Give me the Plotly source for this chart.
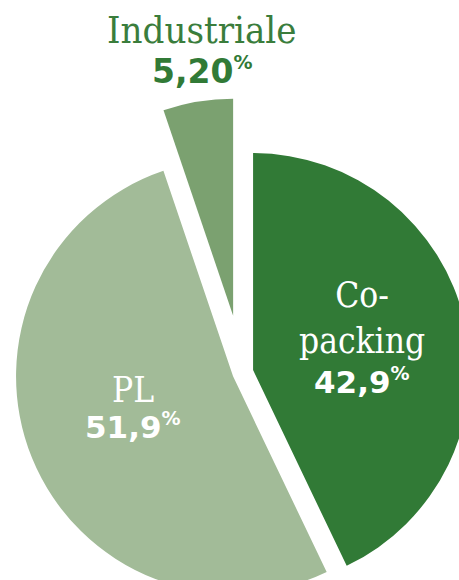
import plotly.graph_objects as go

# data
labels = ["Co-packing", "PL", "Industriale"]
values = [42.9, 51.9, 5.2]
value_labels = ["42,9", "51,9", "5,20"]
name_lines = ["Co-<br>packing", "PL", "Industriale"]

# style
colors = ["#317A36", "#A2BB98", "#7BA170"]
pulls = [0.05, 0.047, 0.265]

# canvas: pie box is larger than the window, page is shifted so the pie bleeds off right/bottom
W = 549
PH = 549
TOP = 98
SHIFT = 32


def px(x):
    return (x + SHIFT) / W


def py(y):
    return 1 - (y - TOP) / PH


fig = go.Figure(
    go.Pie(
        labels=labels,
        values=values,
        sort=False,
        direction="clockwise",
        rotation=0,
        pull=pulls,
        marker=dict(colors=colors, line=dict(width=0)),
        textinfo="none",
        hoverinfo="skip",
        showlegend=False,
    )
)

serif = "DejaVu Serif Condensed, DejaVu Serif, serif"
bold = "DejaVu Sans, sans-serif"

# label placement (pixel centres in the window): name centre, value centre
label_pos = {
    "Co-packing": dict(x=362, name_y=318, val_y=381, name_size=35, val_size=31, col="white", val_col="white"),
    "PL": dict(x=133, name_y=390, val_y=426, name_size=35, val_size=31, col="white", val_col="white"),
    "Industriale": dict(x=202, name_y=30, val_y=71, name_size=38, val_size=33, col="#3A7D3C", val_col="#317A36"),
}

for lab, nm, vl in zip(labels, name_lines, value_labels):
    p = label_pos[lab]
    fig.add_annotation(
        x=px(p["x"]), y=py(p["name_y"]), xref="paper", yref="paper",
        text=nm, showarrow=False, xanchor="center", yanchor="middle",
        font=dict(family=serif, size=p["name_size"], color=p["col"]),
    )
    fig.add_annotation(
        x=px(p["x"]), y=py(p["val_y"]), xref="paper", yref="paper",
        text=vl + '<sup><span style="font-size:19px">%</span></sup>',
        showarrow=False, xanchor="center", yanchor="middle",
        font=dict(family=bold, size=p["val_size"], color=p["val_col"], weight="bold"),
    )

fig.update_layout(
    width=W,
    height=TOP + PH,
    margin=dict(l=0, r=0, t=TOP, b=0),
    paper_bgcolor="white",
    plot_bgcolor="white",
)

fig.write_html(
    "out.html",
    config={"displayModeBar": False},
    post_script=(
        "document.body.style.margin='0';"
        "document.body.style.overflow='hidden';"
        "document.getElementsByClassName('plotly-graph-div')[0].style.marginLeft='-%dpx';" % SHIFT
    ),
)
